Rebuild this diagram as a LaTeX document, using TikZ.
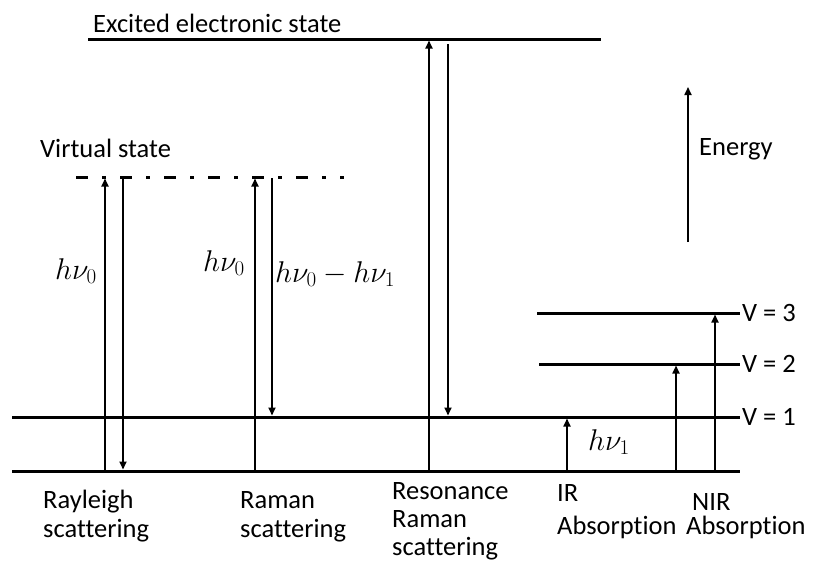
\documentclass[tikz,border=0pt]{standalone}
\usepackage{fix-cm}
\usepackage{fontspec}
\setmainfont{Carlito}[Ligatures={NoCommon}]
\usetikzlibrary{arrows.meta}
\begin{document}
\begin{tikzpicture}[x=1pt,y=-1pt,
  level/.style={line width=3pt},
  trans/.style={line width=1.7pt,-{Triangle[length=8pt,width=7pt]}},
  lbl/.style={inner sep=0pt,anchor=base west,font=\fontsize{26.5}{29}\selectfont},
  mlbl/.style={inner sep=0pt,anchor=base west,font=\fontsize{30}{32}\selectfont}]
\useasboundingbox (0,0) rectangle (813,563);
% energy levels
\draw[level] (88,39) coordinate (exL) -- (601,39) coordinate (exR);
\draw[level,dash pattern=on 12pt off 14pt on 4pt off 14pt] (76,177) coordinate (viL) -- (344,177) coordinate (viR);
\draw[level] (12,471) coordinate (g0L) -- (740,471) coordinate (g0R);
\draw[level] (12,417) coordinate (v1L) -- (740,417) coordinate (v1R);
\draw[level] (539,364) coordinate (v2L) -- (740,364) coordinate (v2R);
\draw[level] (537,313) coordinate (v3L) -- (740,313) coordinate (v3R);
% arrow end points
\coordinate (ra1) at (105,471); \coordinate (ra2) at (105,178.5);
\coordinate (rb1) at (123,178); \coordinate (rb2) at (123,469.5);
\coordinate (ma1) at (255,471); \coordinate (ma2) at (255,178.5);
\coordinate (mb1) at (272,178); \coordinate (mb2) at (272,415.5);
\coordinate (sa1) at (429,471); \coordinate (sa2) at (429,40.5);
\coordinate (sb1) at (448,44);  \coordinate (sb2) at (448,415.5);
\coordinate (ia1) at (567,471); \coordinate (ia2) at (567,418.5);
\coordinate (na1) at (676,471); \coordinate (na2) at (676,365.5);
\coordinate (nb1) at (715,471); \coordinate (nb2) at (715,314.5);
\coordinate (en1) at (688,242); \coordinate (en2) at (688,87);
% transitions
\draw[trans] (ra1) -- (ra2);
\draw[trans] (rb1) -- (rb2);
\draw[trans] (ma1) -- (ma2);
\draw[trans] (mb1) -- (mb2);
\draw[trans] (sa1) -- (sa2);
\draw[trans] (sb1) -- (sb2);
\draw[trans] (ia1) -- (ia2);
\draw[trans] (na1) -- (na2);
\draw[trans] (nb1) -- (nb2);
\draw[trans] (en1) -- (en2);
% labels
\node[lbl] (lexc) at (93,32) {Excited electronic state};
\node[lbl] (lvir) at (40,157) {Virtual state};
\node[lbl] (lene) at (699,155) {Energy};
\node[lbl] (lv3) at (742,321) {V = 3};
\node[lbl] (lv2) at (742,372) {V = 2};
\node[lbl] (lv1) at (742,425) {V = 1};
\node[mlbl] (h1) at (55,279) {$h\nu_0$};
\node[mlbl] (h2) at (203,271) {$h\nu_0$};
\node[mlbl] (h3) at (275,282) {$h\nu_0-h\nu_1$};
\node[mlbl] (h4) at (588,450) {$h\nu_1$};
\node[lbl] (c1a) at (43,508) {Rayleigh};
\node[lbl] (c1b) at (43,537) {scattering};
\node[lbl] (c2a) at (240,508) {Raman};
\node[lbl] (c2b) at (240,537) {scattering};
\node[lbl] (c3a) at (392,499) {Resonance};
\node[lbl] (c3b) at (392,527) {Raman};
\node[lbl] (c3c) at (392,555) {scattering};
\node[lbl] (c4a) at (557,501) {IR};
\node[lbl] (c4b) at (557,534) {Absorption};
\node[lbl] (c5a) at (692,510) {NIR};
\node[lbl] (c5b) at (686,534) {Absorption};
\end{tikzpicture}
\end{document}
